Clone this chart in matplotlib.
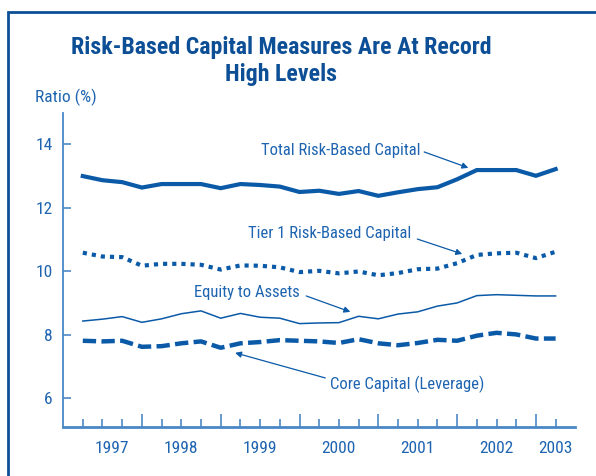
"""Risk-based capital ratios, quarterly 1997-2003."""

import matplotlib
matplotlib.use("Agg")
import matplotlib.pyplot as plt
import numpy as np
from matplotlib import font_manager
from matplotlib.lines import Line2D

# ---------------------------------------------------------------------------
# Data (quarterly, 1997Q1 .. 2003Q1)
# ---------------------------------------------------------------------------

total_rbc = [12.99, 12.86, 12.80, 12.63, 12.74, 12.74, 12.74, 12.61, 12.74,
             12.71, 12.66, 12.49, 12.53, 12.43, 12.52, 12.37, 12.48, 12.58,
             12.64, 12.89, 13.18, 13.18, 13.18, 13.00, 13.21]
tier1_rbc = [10.58, 10.46, 10.44, 10.17, 10.23, 10.23, 10.20, 10.05, 10.18,
             10.17, 10.12, 9.97, 10.01, 9.93, 9.99, 9.87, 9.94, 10.06,
             10.08, 10.25, 10.51, 10.56, 10.58, 10.41, 10.61]
equity_assets = [8.43, 8.49, 8.57, 8.39, 8.50, 8.66, 8.75, 8.52, 8.67,
                 8.55, 8.52, 8.35, 8.37, 8.38, 8.58, 8.50, 8.65, 8.72,
                 8.90, 9.00, 9.23, 9.26, 9.24, 9.22, 9.22]
core_capital = [7.81, 7.79, 7.81, 7.62, 7.64, 7.73, 7.79, 7.59, 7.73,
                7.77, 7.83, 7.81, 7.79, 7.74, 7.86, 7.73, 7.67, 7.74,
                7.84, 7.81, 7.97, 8.06, 8.01, 7.88, 7.88]

year_labels = ["1997", "1998", "1999", "2000", "2001", "2002", "2003"]
year_label_pos = [1.5, 5, 9, 13, 17, 21, 24]
year_end_idx = [3, 7, 11, 15, 19, 23]

# ---------------------------------------------------------------------------
# Style
# ---------------------------------------------------------------------------

LINE = "#0b5aa8"
TEXT = "#1e64b0"
AXIS = "#4b87c6"
FRAME = "#0d4f96"


def pick_font():
    for name in ["Liberation Sans Narrow", "Roboto Condensed", "Roboto"]:
        try:
            font_manager.findfont(name, fallback_to_default=False)
            return name
        except ValueError:
            continue
    return "DejaVu Sans"


FONT = pick_font()
plt.rcParams["font.family"] = [FONT, "DejaVu Sans"]

# ---------------------------------------------------------------------------
# Plot
# ---------------------------------------------------------------------------

fig = plt.figure(figsize=(5.96, 4.76), dpi=100)
ax = fig.add_axes([0.1052, 0.1036, 0.8601, 0.659])

x = np.arange(len(total_rbc))

ax.plot(x, total_rbc, color=LINE, lw=3.0, solid_joinstyle="miter")
ax.plot(x, tier1_rbc, color=LINE, lw=3.0, linestyle=(0, (1, 1.2)),
        dash_capstyle="butt")
ax.plot(x, equity_assets, color=LINE, lw=1.1)
ax.plot(x, core_capital, color=LINE, lw=3.2, linestyle=(0, (3, 1.2)),
        dash_capstyle="butt")

ax.set_xlim(-1.02, 25.0)
ax.set_ylim(5.107, 14.975)

# y axis
ax.set_yticks([6, 8, 10, 12, 14])
ax.tick_params(axis="y", direction="in", length=5.8, width=1.2, color=AXIS,
               labelcolor=TEXT, labelsize=12.5, pad=7)

# x axis: tall ticks at year ends, short ticks every quarter
ax.set_xticks(year_end_idx)
ax.set_xticklabels([])
ax.set_xticks(x, minor=True)
ax.tick_params(axis="x", which="major", direction="in", length=9.4,
               width=1.2, color=AXIS)
ax.tick_params(axis="x", which="minor", direction="in", length=5.8,
               width=1.2, color=AXIS)
for pos, lab in zip(year_label_pos, year_labels):
    ax.text(pos, -0.045, lab, transform=ax.get_xaxis_transform(),
            ha="center", va="top", fontsize=12.5, color=TEXT)

for side in ("top", "right"):
    ax.spines[side].set_visible(False)
ax.spines["left"].set_color(AXIS)
ax.spines["left"].set_linewidth(1.3)
ax.spines["bottom"].set_color(AXIS)
ax.spines["bottom"].set_linewidth(2.0)

# Series labels with arrows
arrow = dict(arrowstyle="-|>", color=LINE, lw=0.9, mutation_scale=9,
             shrinkA=0, shrinkB=0)
label_kw = dict(fontsize=12, color=TEXT, ha="center", va="center")

ax.text(13.07, 13.81, "Total Risk-Based Capital", **label_kw)
ax.annotate("", xy=(19.57, 13.25), xytext=(17.33, 13.75), arrowprops=arrow)

ax.text(12.53, 11.20, "Tier 1 Risk-Based Capital", **label_kw)
ax.annotate("", xy=(19.26, 10.54), xytext=(16.98, 11.01), arrowprops=arrow)

ax.text(8.32, 9.34, "Equity to Assets", **label_kw)
ax.annotate("", xy=(13.58, 8.72), xytext=(11.34, 9.22), arrowprops=arrow)

ax.text(16.47, 6.45, "Core Capital (Leverage)", **label_kw)
ax.annotate("", xy=(7.73, 7.43), xytext=(12.31, 6.64), arrowprops=arrow)

# Titles
fig.text(0.4715, 0.872, "Risk-Based Capital Measures Are At Record\nHigh Levels",
         ha="center", va="center", fontsize=17.2, fontweight="bold",
         color=FRAME, linespacing=1.2)
fig.text(0.0587, 0.796, "Ratio (%)", ha="left", va="center", fontsize=12.5,
         color=TEXT)

# Frame (left and top edges only)
fx, fy = 8.3 / 596, 1 - 12 / 476
fig.add_artist(Line2D([fx, fx, 1.0], [0.0, fy, fy], transform=fig.transFigure,
                      color=FRAME, lw=2.0, solid_joinstyle="miter"))

fig.savefig("out.png", dpi=100)
